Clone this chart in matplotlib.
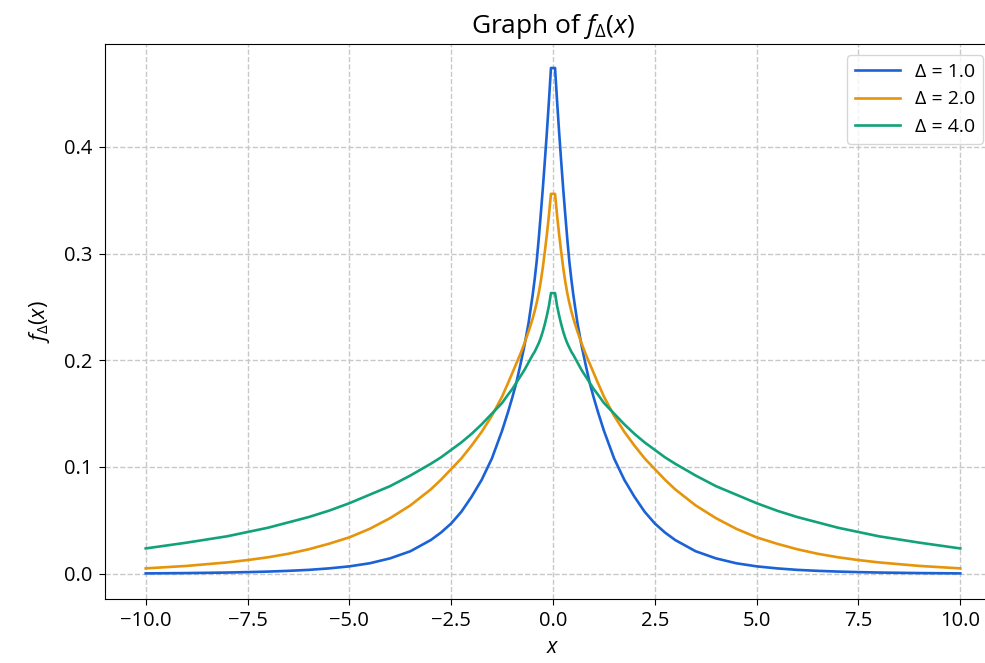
import matplotlib
matplotlib.use("Agg")
import matplotlib.pyplot as plt

# values (right half, the curves are symmetric)
x_half = [0.05, 0.1, 0.15, 0.2, 0.25, 0.3, 0.35, 0.4, 0.45, 0.5, 0.6, 0.7,
          0.8, 0.9, 1.0, 1.1, 1.25, 1.5, 1.75, 2.0, 2.25, 2.5, 2.75, 3.0,
          3.5, 4.0, 4.5, 5.0, 5.5, 6.0, 6.5, 7.0, 7.5, 8.0, 9.0, 10.0]
f_delta_1 = [0.474, 0.443, 0.414, 0.387, 0.361, 0.337, 0.314, 0.293, 0.276,
             0.261, 0.235, 0.214, 0.196, 0.179, 0.165, 0.152, 0.134, 0.108,
             0.088, 0.072, 0.058, 0.047, 0.0385, 0.0315, 0.021, 0.0143,
             0.0097, 0.0068, 0.0049, 0.0035, 0.0026, 0.0019, 0.0014, 0.0010,
             0.0005, 0.0002]
f_delta_2 = [0.356, 0.336, 0.318, 0.302, 0.287, 0.274, 0.263, 0.254, 0.246,
             0.239, 0.227, 0.216, 0.206, 0.197, 0.188, 0.179, 0.166, 0.148,
             0.133, 0.120, 0.108, 0.098, 0.088, 0.079, 0.064, 0.052, 0.042,
             0.034, 0.028, 0.0228, 0.0186, 0.0153, 0.0127, 0.0105, 0.0072,
             0.0049]
f_delta_4 = [0.263, 0.251, 0.242, 0.234, 0.227, 0.221, 0.216, 0.212, 0.208,
             0.205, 0.198, 0.191, 0.185, 0.179, 0.173, 0.168, 0.160, 0.150,
             0.140, 0.131, 0.123, 0.116, 0.109, 0.103, 0.092, 0.082, 0.074,
             0.066, 0.059, 0.053, 0.048, 0.043, 0.039, 0.035, 0.029, 0.0236]
deltas = [1.0, 2.0, 4.0]
colors = ["#1a62d6", "#e6940a", "#12a27a"]

plt.rcParams["font.family"] = ["Open Sans", "DejaVu Sans"]
plt.rcParams["mathtext.fontset"] = "custom"
plt.rcParams["mathtext.rm"] = "Open Sans"
plt.rcParams["mathtext.it"] = "Open Sans:italic"


def mirror(xs, ys):
    # build the full symmetric curve from the right half
    full_x = [-v for v in xs[::-1]] + list(xs)
    full_y = list(ys[::-1]) + list(ys)
    return full_x, full_y


fig = plt.figure(figsize=(9.85, 6.63), dpi=100)
# right edge of the axes lies past the picture, as in the reference
ax = fig.add_axes([105 / 985, 64 / 663, 896 / 985, 555 / 663])

for d, ys, c in zip(deltas, [f_delta_1, f_delta_2, f_delta_4], colors):
    xs_full, ys_full = mirror(x_half, ys)
    ax.plot(xs_full, ys_full, color=c, lw=1.9, label="\u0394 = %.1f" % d)

ax.set_xlim(-11, 11)
ax.set_ylim(-0.0238, 0.4965)
ax.set_xticks([-10, -7.5, -5, -2.5, 0, 2.5, 5, 7.5, 10])
ax.set_xticklabels(["\u221210.0", "\u22127.5", "\u22125.0", "\u22122.5", "0.0",
                    "2.5", "5.0", "7.5", "10.0"])
ax.set_yticks([0.0, 0.1, 0.2, 0.3, 0.4])
ax.tick_params(labelsize=14.5, length=4, pad=5)
ax.grid(True, linestyle="--", color="#c8c8c8", lw=1)

ax.set_title(r"Graph of $f_\Delta(x)$", fontsize=19, pad=8)
ax.set_xlabel(r"$x$", fontsize=15.5, labelpad=4)
ax.set_ylabel(r"$f_\Delta(x)$", fontsize=15.5, labelpad=9)
ax.legend(loc="upper left", bbox_to_anchor=(847 / 985, 1 - 55 / 663),
          bbox_transform=fig.transFigure, borderaxespad=0,
          fontsize=14, handlelength=2.3)

plt.savefig("out.png", dpi=100)
